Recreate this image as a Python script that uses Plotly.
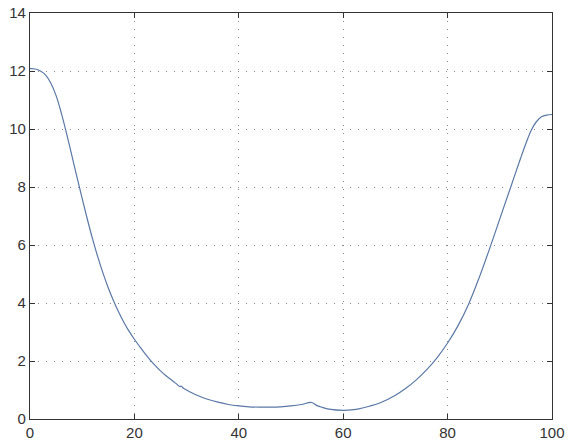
import plotly.graph_objects as go

x_vals = [0, 1, 2, 3, 4, 5, 6, 7, 8, 9, 10, 11, 12, 13, 14, 15, 16, 17, 18, 19,
          20, 21, 22, 23, 24, 25, 26, 27, 28, 28.7, 29, 29.4, 30, 32, 34, 36, 38,
          40, 42, 44, 46, 48, 50, 52, 53.9, 55, 56, 57.6, 60, 62, 63, 65, 67, 70,
          72, 74, 76, 78, 80, 82, 84, 86, 88, 90, 92, 94, 95, 96, 97, 98, 99, 100]
y_vals = [12.08, 12.07, 12.0, 11.86, 11.58, 11.15, 10.55, 9.85, 9.1, 8.34, 7.6, 6.88,
          6.2, 5.58, 5.02, 4.52, 4.08, 3.68, 3.33, 3.02, 2.75, 2.5, 2.26, 2.04, 1.84,
          1.66, 1.5, 1.36, 1.22, 1.12, 1.13, 1.06, 1.0, 0.82, 0.68, 0.58, 0.5, 0.45,
          0.42, 0.41, 0.41, 0.42, 0.45, 0.5, 0.57, 0.46, 0.4, 0.33, 0.3, 0.32, 0.35,
          0.44, 0.55, 0.82, 1.06, 1.35, 1.7, 2.12, 2.62, 3.22, 3.95, 4.85, 5.85, 6.9,
          7.95, 9.0, 9.5, 9.95, 10.25, 10.42, 10.48, 10.5]

x_ticks = [0, 20, 40, 60, 80, 100]
y_ticks = [0, 2, 4, 6, 8, 10, 12, 14]

fig = go.Figure()
fig.add_trace(go.Scatter(x=x_vals, y=y_vals, mode="lines",
                         line=dict(color="#5a78a6", width=1.2, shape="spline", smoothing=1.0),
                         showlegend=False, hoverinfo="skip"))

axis_common = dict(
    showline=True, linecolor="#333333", linewidth=1.3, mirror="ticks",
    ticks="inside", ticklen=5, tickcolor="#333333",
    showgrid=True, gridcolor="#888888", griddash="1px,7px", gridwidth=1,
    zeroline=False, automargin=False,
    tickfont=dict(family="Liberation Sans, Arial, sans-serif", size=15, color="#333333"),
)

fig.update_xaxes(range=[0, 100], tickvals=x_ticks, ticktext=[str(v) for v in x_ticks], **axis_common)
fig.update_yaxes(range=[0, 14], tickvals=y_ticks, ticktext=[str(v) for v in y_ticks], **axis_common)

fig.update_layout(
    width=570, height=446,
    margin=dict(l=30, r=18, t=13, b=27),
    plot_bgcolor="white", paper_bgcolor="white",
)

fig.write_html("out.html")
